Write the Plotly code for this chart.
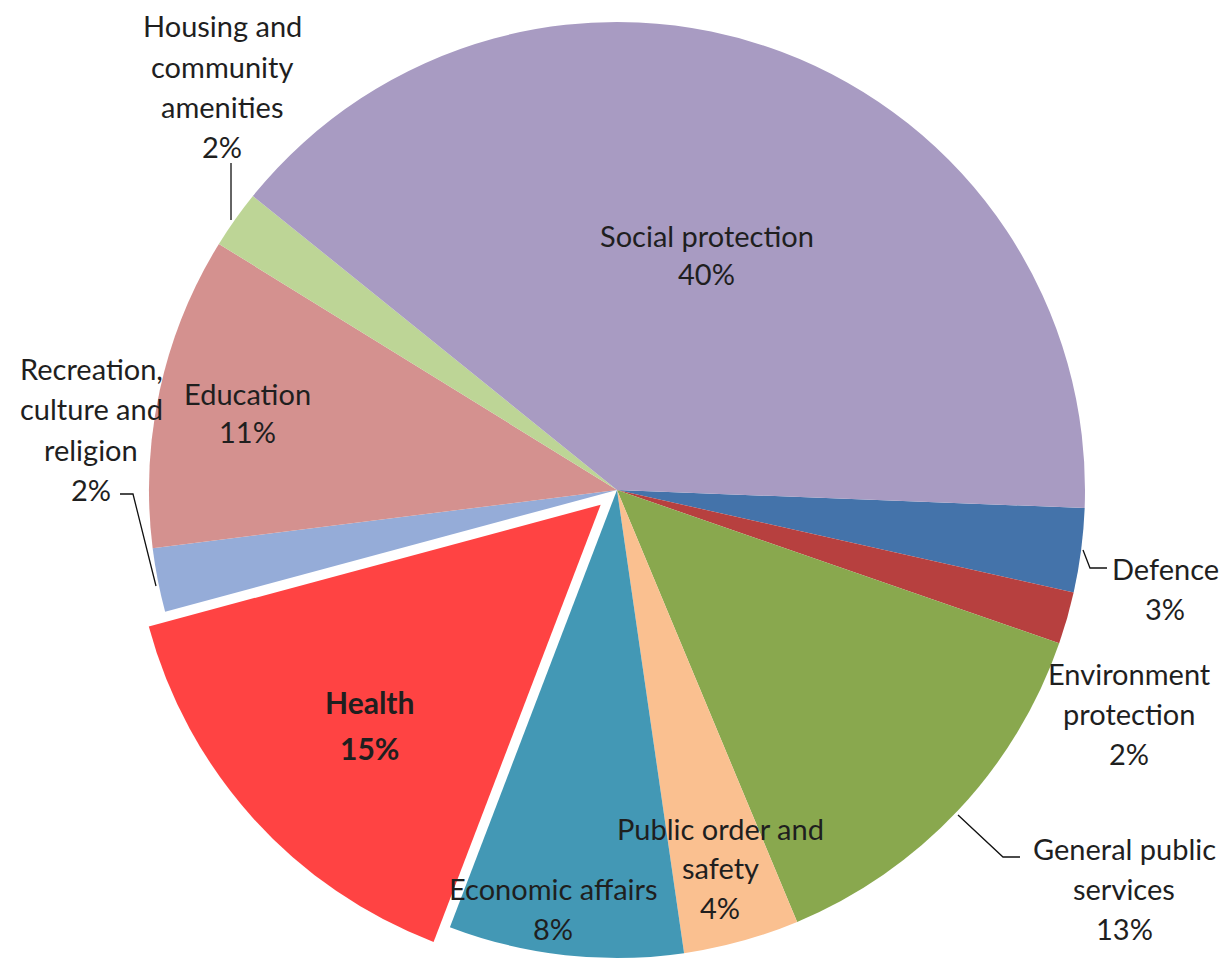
import plotly.graph_objects as go

# ---- data ----
categories = ["Defence", "Environment protection", "General public services",
              "Public order and safety", "Economic affairs", "Health",
              "Recreation, culture and religion", "Education",
              "Housing and community amenities", "Social protection"]
values = [2.9, 1.8, 13.4, 4.0, 8.1, 15.0, 2.2, 10.8, 2.0, 39.8]
colors = ["#4473AA", "#B7403F", "#89A84E", "#FAC090", "#4398B5", "#FF4343",
          "#95ACD8", "#D4918F", "#BDD596", "#A89BC2"]
pulls = [0, 0, 0, 0, 0, 0.047, 0, 0, 0, 0]

# label line breaks (text) and where each label block is placed (px)
label_lines = {
    "Defence": ["Defence"],
    "Environment protection": ["Environment", "protection"],
    "General public services": ["General public", "services"],
    "Public order and safety": ["Public order and", "safety"],
    "Economic affairs": ["Economic affairs"],
    "Health": ["Health"],
    "Recreation, culture and religion": ["Recreation,", "culture and", "religion"],
    "Education": ["Education"],
    "Housing and community amenities": ["Housing and", "community", "amenities"],
    "Social protection": ["Social protection"],
}
label_pos = {  # (center x, first line y, line spacing)
    "Defence": (1165, 568, 40),
    "Environment protection": (1129, 673, 40),
    "General public services": (1124, 848, 40),
    "Public order and safety": (720, 828, 39.5),
    "Economic affairs": (553, 888, 40),
    "Health": (369, 702, 46),
    "Recreation, culture and religion": (91, 368, 40.5),
    "Education": (247, 393, 39),
    "Housing and community amenities": (222, 26, 40.3),
    "Social protection": (707, 235, 38),
}
leaders = [  # polyline points in px
    [(231, 163), (231, 220)],
    [(120, 494), (133, 494), (156, 586)],
    [(1083, 550), (1090, 568), (1107, 568)],
    [(958, 815), (1003, 857), (1020, 857)],
]

W, H = 1224, 980
CX, CY, RP = 617, 490, 491  # pie centre and radius incl. pull (px)

def px(x):
    return x / W

def py(y):
    return 1 - y / H

fig = go.Figure(go.Pie(
    labels=categories, values=values, sort=False, direction="clockwise",
    rotation=92.2, pull=pulls, textinfo="none", hoverinfo="label+percent",
    marker=dict(colors=colors, line=dict(width=0)),
    domain=dict(x=[px(CX - RP), px(CX + RP)], y=[0, 1]),
    showlegend=False,
))

FONT = "Lato"
annotations = []
for cat, val in zip(categories, values):
    lines = label_lines[cat] + [f"{round(val)}%"]
    x, y0, dy = label_pos[cat]
    bold = cat == "Health"
    for i, line in enumerate(lines):
        annotations.append(dict(
            x=px(x), y=py(y0 + i * dy), xref="paper", yref="paper",
            text=f"<b>{line}</b>" if bold else line, showarrow=False,
            xanchor="center", yanchor="middle",
            font=dict(family=FONT, size=30 if bold else 29, color="#1f1f1f"),
        ))

shapes = []
for pts in leaders:
    path = "M " + " L ".join(f"{px(a):.5f},{py(b):.5f}" for a, b in pts)
    shapes.append(dict(type="path", path=path, xref="paper", yref="paper",
                       line=dict(color="#111111", width=1.3)))

fig.update_layout(
    width=W, height=H, margin=dict(l=0, r=0, t=0, b=0),
    paper_bgcolor="white", plot_bgcolor="white",
    annotations=annotations, shapes=shapes,
)

fig.write_html("out.html",
               post_script="document.documentElement.style.overflow='hidden';"
                           "document.body.style.overflow='hidden';")
